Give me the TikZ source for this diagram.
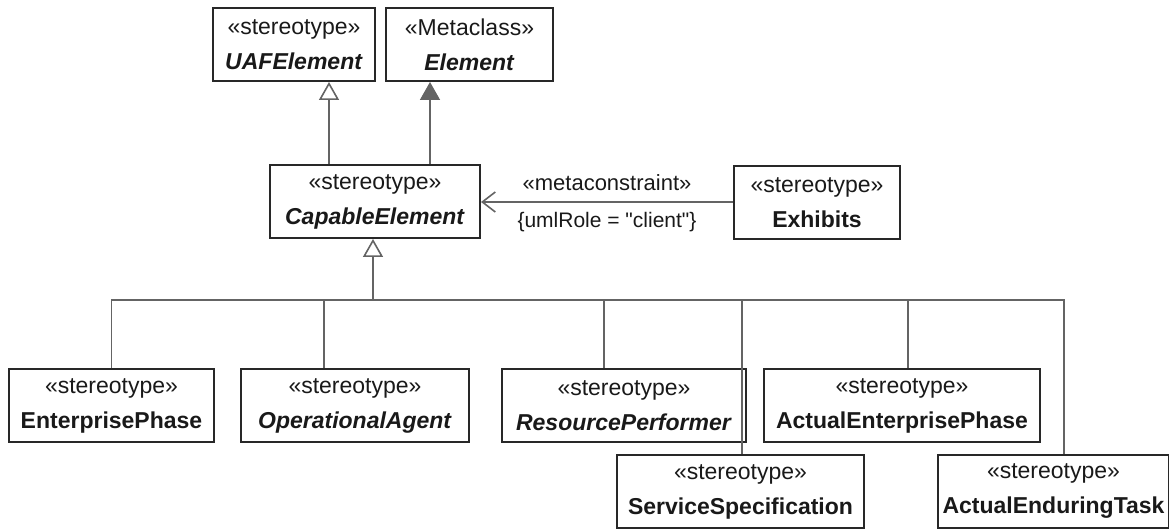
\documentclass[tikz,border=0pt]{standalone}
\usepackage{fontspec}
\setmainfont{Liberation Sans}[Ligatures=TeXOff]
\usetikzlibrary{arrows.meta}
\definecolor{myBorder}{RGB}{40,40,40}
\definecolor{myLine}{RGB}{100,100,100}
\definecolor{myText}{RGB}{25,25,25}

\begin{document}
\begin{tikzpicture}[x=0.5pt,y=-0.5pt,
		stereo/.style={draw=myBorder,line width=1pt,rectangle,minimum height=36.5pt,inner sep=0pt,align=center,anchor=north west,text=myText,font=\fontsize{11.5}{17.5}\selectfont},
		genline/.style={draw=myLine,line width=0.8pt},
		opengen/.style={genline,-{Triangle[open,length=9pt,width=10pt,fill=white]}},
		fullgen/.style={genline,-{Triangle[length=9pt,width=10pt,fill=myLine]}},
		lbl/.style={text=myText,font=\fontsize{11}{13}\selectfont}]
		\useasboundingbox (0,0) rectangle (1169,529);
		
		\node[stereo,minimum width=81pt] (uaf) at (212,7) {«stereotype»\\\textbf{\textit{UAFElement}}};
		\node[stereo,minimum width=83.5pt] (el) at (385,7) {«Metaclass»\\\textbf{\textit{Element}}};
		\node[stereo,minimum width=105pt] (ce) at (269,164) {«stereotype»\\\textbf{\textit{CapableElement}}};
		\node[stereo,minimum width=83pt] (ex) at (733,165) {«stereotype»\\\textbf{Exhibits}};
		
		\node[stereo,minimum width=102.5pt] (ep) at (8,368) {«stereotype»\\\textbf{EnterprisePhase}};
		\node[stereo,minimum width=114pt] (oa) at (240,368) {«stereotype»\\\textbf{\textit{OperationalAgent}}};
		\node[stereo,minimum width=122pt] (rp) at (501,368) {«stereotype»\\\textbf{\textit{ResourcePerformer}}};
		\node[stereo,minimum width=138pt] (aep) at (763,368) {«stereotype»\\\textbf{ActualEnterprisePhase}};
		\node[stereo,minimum width=123.5pt] (ss) at (616,454) {«stereotype»\\\textbf{ServiceSpecification}};
		\node[stereo,minimum width=115.5pt] (aet) at (937,454) {«stereotype»\\\textbf{ActualEnduringTask}};
		
		\draw[opengen] ([xshift=-23pt]ce.north) -- ([xshift=-23pt]ce.north |- uaf.south);
		\draw[fullgen] ([xshift=27.5pt]ce.north) -- ([xshift=27.5pt]ce.north |- el.south);
		
		\draw[genline,-{Straight Barb[length=6.5pt,width=10pt]}] (ex.west |- 0,202) -- (ce.east |- 0,202)
			node[lbl,midway,yshift=9.5pt]{«metaconstraint»}
			node[lbl,midway,yshift=-10pt,font=\fontsize{10.5}{12}\selectfont]{\{umlRole = "client"\}};
		
		\coordinate (bus) at (373,300);
		\draw[opengen] (bus) -- (bus |- ce.south);
		\foreach \n/\dx in {ep/0,oa/-15.5,rp/-10,ss/0.75,aep/3,aet/5.25}
			\draw[genline] ([xshift=\dx pt]\n.north) |- (bus);
\end{tikzpicture}
\end{document}
